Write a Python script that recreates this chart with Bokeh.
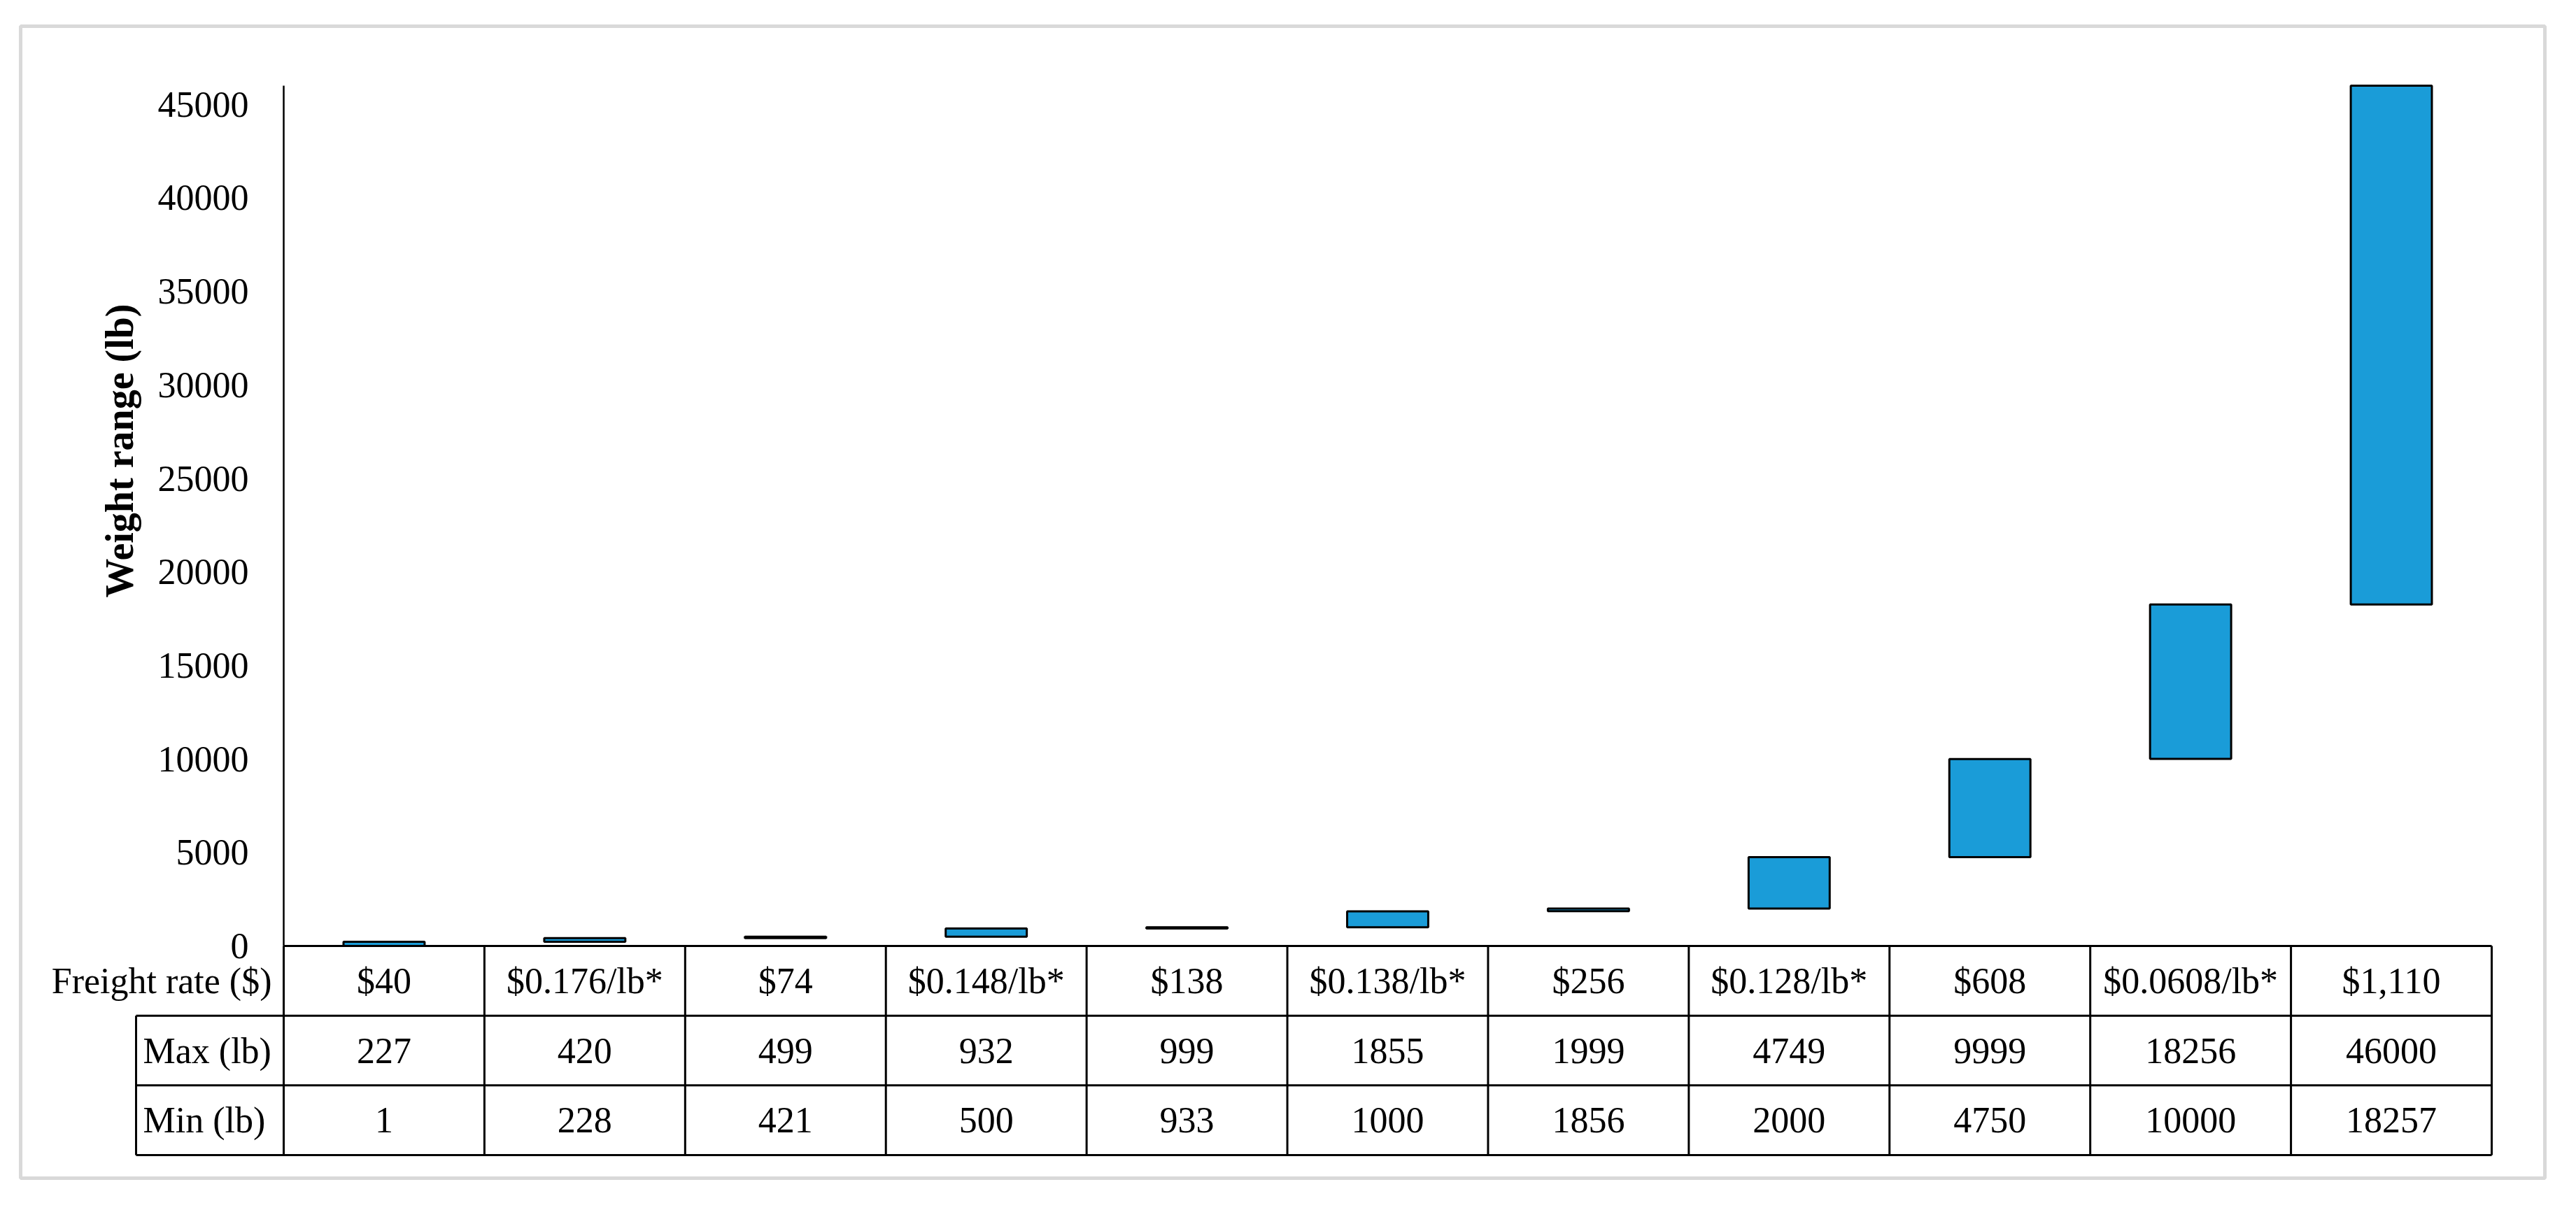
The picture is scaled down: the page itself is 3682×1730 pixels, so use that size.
from bokeh.plotting import figure
from bokeh.models import Range1d, LinearAxis, FixedTicker, ColumnDataSource
from bokeh.core.properties import value
from bokeh.embed import file_html
from bokeh.resources import INLINE
import math

# ---- data ----
freight_rates = ["$40", "$0.176/lb*", "$74", "$0.148/lb*", "$138", "$0.138/lb*",
                 "$256", "$0.128/lb*", "$608", "$0.0608/lb*", "$1,110"]
max_lb = [227, 420, 499, 932, 999, 1855, 1999, 4749, 9999, 18256, 46000]
min_lb = [1, 228, 421, 500, 933, 1000, 1856, 2000, 4750, 10000, 18257]
y_ticks = [0, 5000, 10000, 15000, 20000, 25000, 30000, 35000, 40000, 45000]
row_labels = ["Freight rate ($)", "Max (lb)", "Min (lb)"]
y_title = "Weight range (lb)"

# ---- layout geometry (page pixels) ----
PAGE = 8
L, R, T, B = 37, 3645, 45, 1692          # light outer box
AX_X = 413                               # y axis / table first column edge
COL_W = (3569 - AX_X) / len(max_lb)
Y0 = 1360                                # zero line
TOP_PX = 130                             # position of y-axis max
Y_MAX = 46000
PX_PER_LB = (Y0 - TOP_PX) / Y_MAX
TABLE_BOTTOM = 1659
ROW_H = (TABLE_BOTTOM - Y0) / 3
HDR_LEFT = 202

W, H = 3666, 1714
FONT = value("Liberation Serif")
FS = value("52px")

def xd(px):
    return (px - AX_X) / COL_W

p = figure(width=W, height=H, title=None, toolbar_location=None, output_backend="svg",
           x_range=Range1d(xd(L), xd(R)),
           y_range=Range1d(-(B - Y0) / PX_PER_LB, (Y0 - T) / PX_PER_LB),
           x_axis_location=None, y_axis_location=None,
           min_border_left=L - PAGE, min_border_top=T - PAGE,
           min_border_right=W - (R - PAGE), min_border_bottom=H - (B - PAGE))
p.extra_y_ranges = {"table": Range1d(-(B - Y0) / ROW_H, (Y0 - T) / ROW_H)}
p.grid.visible = False
p.outline_line_color = "#d9d9d9"
p.outline_line_width = 5
p.background_fill_color = "white"
p.border_fill_color = "white"

# ---- y axis at x = 0 ----
yax = LinearAxis(fixed_location=0, bounds=(0, Y_MAX), ticker=FixedTicker(ticks=y_ticks))
yax.axis_line_color = "black"
yax.axis_line_width = 2.5
yax.major_tick_line_color = None
yax.minor_tick_line_color = None
yax.major_tick_in = 0
yax.major_tick_out = 0
yax.major_label_standoff = 50
yax.major_label_text_font = "Liberation Serif"
yax.major_label_text_font_size = "52px"
yax.major_label_text_color = "black"
p.add_layout(yax, "left")

# ---- floating bars ----
n = len(max_lb)
centers = [i + 0.5 for i in range(n)]
src = ColumnDataSource(dict(x=centers, bottom=min_lb, top=max_lb))
p.vbar(x="x", bottom="bottom", top="top", width=0.404, source=src,
       fill_color="#1a9cd8", line_color="black", line_width=3)

# ---- y title ----
p.text(x=[xd(178)], y=[(Y0 - 652) / PX_PER_LB], text=[y_title], angle=math.pi / 2,
       text_font=FONT, text_font_size=value("56px"), text_font_style="bold",
       text_align="center", text_baseline="middle", text_color="black")

# ---- data table grid ----
hx0, hx1, hy0, hy1 = [], [], [], []
hx0.append(0); hx1.append(n); hy0.append(0); hy1.append(0)
for r in (1, 2, 3):
    hx0.append(xd(HDR_LEFT)); hx1.append(n); hy0.append(-r); hy1.append(-r)
for i in range(n + 1):
    hx0.append(i); hx1.append(i); hy0.append(0); hy1.append(-3)
hx0.append(xd(HDR_LEFT)); hx1.append(xd(HDR_LEFT)); hy0.append(-1); hy1.append(-3)
p.segment(x0=hx0, y0=hy0, x1=hx1, y1=hy1, line_color="black", line_width=3,
          y_range_name="table")

# ---- table texts ----
rows = [freight_rates, [str(v) for v in max_lb], [str(v) for v in min_lb]]
for r, vals in enumerate(rows):
    p.text(x=centers, y=[-(r + 0.5)] * n, text=vals, y_range_name="table",
           text_font=FONT, text_font_size=FS, text_align="center",
           text_baseline="middle", text_color="black")

p.text(x=[xd(396)], y=[-0.5], text=[row_labels[0]], y_range_name="table",
       text_font=FONT, text_font_size=FS, text_align="right",
       text_baseline="middle", text_color="black")
p.text(x=[xd(212)] * 2, y=[-1.5, -2.5], text=row_labels[1:], y_range_name="table",
       text_font=FONT, text_font_size=FS, text_align="left",
       text_baseline="middle", text_color="black")

open("out.html", "w").write(file_html(p, INLINE))
